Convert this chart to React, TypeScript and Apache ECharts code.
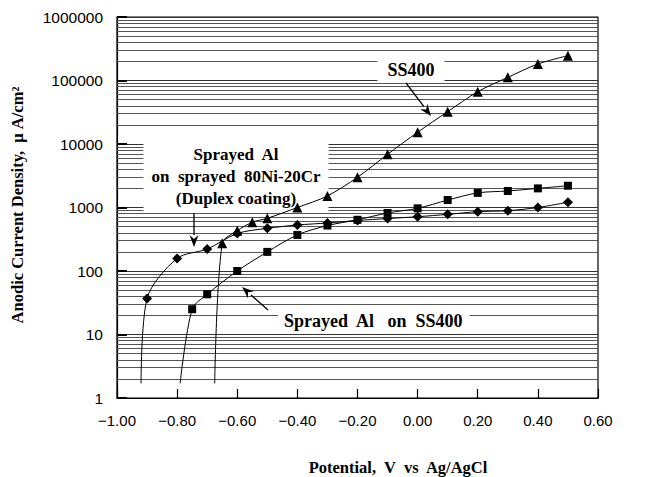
import React, { useEffect, useRef } from "react";
import * as echarts from "echarts";

// Potential (V vs Ag/AgCl) and anodic current density (uA/cm2)
const potDuplex = [-0.9, -0.8, -0.7, -0.6, -0.5, -0.4, -0.3, -0.2, -0.1, 0.0, 0.1, 0.2, 0.3, 0.4, 0.5];
const curDuplex = [37, 158, 222, 390, 470, 530, 570, 625, 670, 716, 780, 860, 890, 1000, 1210];

const potSprayed = [-0.75, -0.7, -0.6, -0.5, -0.4, -0.3, -0.2, -0.1, 0.0, 0.1, 0.2, 0.3, 0.4, 0.5];
const curSprayed = [25, 43, 100, 200, 370, 520, 640, 820, 970, 1310, 1700, 1820, 2000, 2200];

const potSS = [-0.65, -0.6, -0.55, -0.5, -0.4, -0.3, -0.2, -0.1, 0.0, 0.1, 0.2, 0.3, 0.4, 0.5];
const curSS = [273, 431, 585, 676, 1000, 1520, 2990, 6880, 15300, 32300, 66600, 112000, 182000, 246000];

// where each curve rises from the bottom of the plot (no marker)
const startDuplex = [-0.92, 1.7];
const startSprayed = [-0.79, 1.7];
const startSS = [-0.675, 1.7];

const yMajorTicks = [1, 10, 100, 1000, 10000, 100000, 1000000];
const yMinorMultipliers = [2, 3, 4, 5, 6, 7, 8, 9];

const SERIF = "'Liberation Serif', 'DejaVu Serif', serif";
const SANS = "'Liberation Sans', Arial, sans-serif";

function arrow(x1: number, y1: number, x2: number, y2: number) {
  const dx = x2 - x1;
  const dy = y2 - y1;
  const len = Math.sqrt(dx * dx + dy * dy);
  const ux = dx / len;
  const uy = dy / len;
  const hl = 12;
  const hw = 4.5;
  const bx = x2 - ux * hl;
  const by = y2 - uy * hl;
  const px = -uy * hw;
  const py = ux * hw;
  return [
    {
      type: "line",
      z: 3,
      shape: { x1, y1, x2: bx, y2: by },
      style: { stroke: "#000", lineWidth: 1.3 },
    },
    {
      type: "polygon",
      z: 3,
      shape: { points: [[bx + px, by + py], [x2, y2], [bx - px, by - py], [x2 - ux * 8, y2 - uy * 8]] },
      style: { fill: "#000" },
    },
  ];
}

function toData(start: number[], xs: number[], ys: number[]) {
  const d: any[] = [{ value: start, symbol: "none" }];
  xs.forEach((x, i) => d.push([x, ys[i]]));
  return d;
}

export default function App() {
  const ref = useRef<HTMLDivElement>(null);
  useEffect(() => {
    if (!ref.current) return;
    const chart = echarts.init(ref.current, undefined, { renderer: "svg" });
    const minorLines: any[] = [];
    yMajorTicks.slice(0, -1).forEach((m) => {
      yMinorMultipliers.forEach((k) => minorLines.push({ yAxis: m * k }));
    });
    const lineBase = {
      type: "line",
      smooth: 0.3,
      z: 10,
      lineStyle: { color: "#000", width: 1 },
      itemStyle: { color: "#000" },
      showSymbol: true,
    };
    chart.setOption({
      animation: false,
      backgroundColor: "#fff",
      grid: {
        left: 117,
        right: 47,
        top: 17,
        bottom: 79,
        show: true,
        borderColor: "#000",
        borderWidth: 1.2,
        backgroundColor: "transparent",
      },
      xAxis: {
        type: "value",
        min: -1,
        max: 0.6,
        interval: 0.2,
        axisLine: { show: true, onZero: false, lineStyle: { color: "#000", width: 1.2 } },
        axisTick: { show: true, inside: true, length: 9, lineStyle: { color: "#000", width: 1.2 } },
        axisLabel: {
          margin: 15,
          color: "#000",
          fontFamily: SANS,
          fontSize: 15,
          formatter: (v: number) => (v < 0 ? "\u2212" + Math.abs(v).toFixed(2) : v.toFixed(2)),
        },
        splitLine: { show: false },
      },
      yAxis: {
        type: "log",
        logBase: 10,
        min: 1,
        max: 1000000,
        axisLine: { show: true, onZero: false, lineStyle: { color: "#000", width: 1.2 } },
        axisTick: { show: true, inside: true, length: 10, lineStyle: { color: "#000", width: 2 } },
        axisLabel: {
          margin: 14,
          color: "#000",
          fontFamily: SANS,
          fontSize: 15.5,
          formatter: (v: number) => String(Math.round(v)),
        },
        splitLine: { show: true, lineStyle: { color: "#333", width: 1 } },
      },
      graphic: [
        {
          type: "text",
          z: 3,
          x: 17,
          y: 205,
          rotation: Math.PI / 2,
          style: {
            text: "Anodic Current Density,  \u03bc A/cm\u00b2",
            fontFamily: SERIF,
            fontWeight: "bold",
            fontSize: 16.5,
            fill: "#000",
            align: "center",
            verticalAlign: "middle",
          },
        },
        {
          type: "text",
          z: 3,
          x: 398,
          y: 467,
          style: {
            text: "Potential,  V  vs  Ag/AgCl",
            fontFamily: SERIF,
            fontWeight: "bold",
            fontSize: 16.5,
            fill: "#000",
            align: "center",
            verticalAlign: "middle",
          },
        },
        {
          type: "text",
          z: 3,
          x: 411,
          y: 70,
          style: {
            text: "SS400",
            fontFamily: SERIF,
            fontWeight: "bold",
            fontSize: 18,
            fill: "#000",
            align: "center",
            verticalAlign: "middle",
            backgroundColor: "#fff",
            padding: [3, 10],
          },
        },
        {
          type: "text",
          z: 3,
          x: 236,
          y: 176,
          style: {
            text: "Sprayed  Al\non  sprayed  80Ni-20Cr\n(Duplex coating)",
            fontFamily: SERIF,
            fontWeight: "bold",
            fontSize: 17,
            lineHeight: 22,
            fill: "#000",
            align: "center",
            verticalAlign: "middle",
            backgroundColor: "#fff",
            padding: [2, 8],
          },
        },
        {
          type: "text",
          z: 3,
          x: 278,
          y: 321,
          style: {
            text: "Sprayed  Al   on  SS400",
            fontFamily: SERIF,
            fontWeight: "bold",
            fontSize: 18,
            fill: "#000",
            align: "left",
            verticalAlign: "middle",
            backgroundColor: "#fff",
            padding: [3, 6],
          },
        },
        ...arrow(406, 83, 431, 116),
        ...arrow(194, 213, 194, 247),
        ...arrow(268, 310, 242, 287),
      ],
      series: [
        {
          ...lineBase,
          name: "Duplex",
          symbol: "diamond",
          symbolSize: 10,
          data: toData(startDuplex, potDuplex, curDuplex),
          markLine: {
            silent: true,
            z: 1,
            symbol: ["none", "none"],
            label: { show: false },
            lineStyle: { color: "#555", width: 1, type: "solid" },
            emphasis: { disabled: true },
            data: minorLines,
          },
        },
        {
          ...lineBase,
          name: "Sprayed Al on SS400",
          symbol: "rect",
          symbolSize: 8,
          data: toData(startSprayed, potSprayed, curSprayed),
        },
        {
          ...lineBase,
          name: "SS400",
          symbol: "triangle",
          symbolSize: 10,
          data: toData(startSS, potSS, curSS),
        },
      ],
    });
    return () => chart.dispose();
  }, []);
  return <div ref={ref} style={{ position: "absolute", left: 0, top: 0, width: 645, height: 477 }} />;
}
